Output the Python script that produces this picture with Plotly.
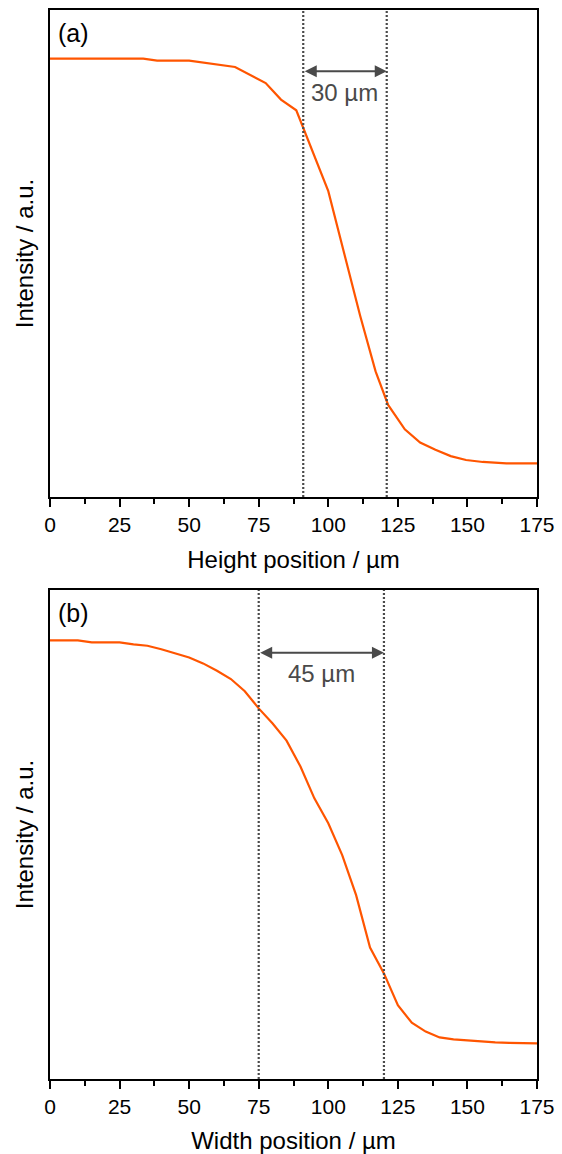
import plotly.graph_objects as go

# Profile (a): intensity along the height direction
height_pos = [0, 33.5, 38.5, 50, 66.5, 77.5, 83, 88.5, 100, 106.5, 111.5, 117,
              121.5, 127.5, 133, 138.5, 144, 149.5, 155.5, 164, 175]
height_int = [0.900, 0.900, 0.896, 0.896, 0.883, 0.850, 0.816, 0.794, 0.628, 0.480,
              0.371, 0.258, 0.189, 0.139, 0.112, 0.097, 0.084, 0.076, 0.072, 0.069, 0.069]

# Profile (b): intensity along the width direction
width_pos = [0, 5, 10, 15, 20, 25, 30, 35, 40, 45, 50, 55, 60, 65, 70, 75, 80, 85,
             90, 95, 100, 105, 110, 115, 120, 125, 130, 135, 140, 145, 150, 155,
             160, 165, 170, 175]
width_int = [0.897, 0.897, 0.897, 0.893, 0.893, 0.893, 0.889, 0.886, 0.879, 0.870,
             0.862, 0.850, 0.835, 0.818, 0.793, 0.758, 0.727, 0.692, 0.639, 0.574,
             0.523, 0.458, 0.376, 0.269, 0.216, 0.151, 0.115, 0.097, 0.085, 0.081,
             0.079, 0.076, 0.075, 0.074, 0.073, 0.073]

# Transition-zone markers and their labels
height_marks = [91, 121]
width_marks = [75, 120]
height_span_label = "30 µm"
width_span_label = "45 µm"
arrow_level = [0.874, 0.872]
label_level = [0.830, 0.830]

x_ticks = [0, 25, 50, 75, 100, 125, 150, 175]
x_titles = ["Height position / µm", "Width position / µm"]
panel_tags = ["(a)", "(b)"]

FONT = "Liberation Sans, Arial, sans-serif"
CURVE = "#ff5500"
GREY = "#4a4a4a"

fig = go.Figure()
fig.add_trace(go.Scatter(x=height_pos, y=height_int, mode="lines",
                         line=dict(color=CURVE, width=2.2), xaxis="x", yaxis="y",
                         showlegend=False))
fig.add_trace(go.Scatter(x=width_pos, y=width_int, mode="lines",
                         line=dict(color=CURVE, width=2.2), xaxis="x2", yaxis="y2",
                         showlegend=False))

panels = [("x", "y", height_marks, height_span_label, [0.5444, 1.0]),
          ("x2", "y2", width_marks, width_span_label, [0.0, 0.4574])]

layout_axes = {}
for i, (xa, ya, marks, span_label, dom) in enumerate(panels):
    xkey = "xaxis" if i == 0 else "xaxis2"
    ykey = "yaxis" if i == 0 else "yaxis2"
    layout_axes[xkey] = dict(
        range=[0, 175], tickvals=x_ticks, ticks="outside", ticklen=8, tickwidth=2,
        tickcolor="black", showline=True, linecolor="black", linewidth=2, mirror=True,
        showgrid=False, zeroline=False, anchor=ya, automargin=False,
        tickfont=dict(family=FONT, size=21, color="black"),
        ticklabelstandoff=0,
        minor=dict(ticks="outside", ticklen=5, tickwidth=2, tickcolor="black",
                   dtick=12.5, tick0=0, showgrid=False),
        title=dict(text=x_titles[i], font=dict(family=FONT, size=24, color="black"),
                   standoff=16),
    )
    layout_axes[ykey] = dict(
        range=[0, 1], domain=dom, showticklabels=False, ticks="", showline=True,
        linecolor="black", linewidth=2, mirror=True, showgrid=False, zeroline=False,
        anchor=xa, automargin=False,
        title=dict(text="Intensity / a.u.", font=dict(family=FONT, size=24, color="black"),
                   standoff=8),
    )

    # dotted vertical markers
    for m in marks:
        fig.add_shape(type="line", xref=xa, yref=f"{ya} domain", x0=m, x1=m, y0=0, y1=1,
                      line=dict(color=GREY, width=2.2, dash="2px,2px"))

    # double-headed span arrow
    fig.add_annotation(xref=xa, yref=ya, axref=xa, ayref=ya,
                       x=marks[1], y=arrow_level[i], ax=marks[0], ay=arrow_level[i],
                       text="", showarrow=True, arrowhead=2, startarrowhead=2,
                       arrowside="end+start", arrowsize=1.2, startarrowsize=1.2,
                       arrowwidth=2, arrowcolor=GREY, standoff=0, startstandoff=0)
    fig.add_annotation(xref=xa, yref=ya, x=(marks[0] + marks[1]) / 2, y=label_level[i],
                       text=span_label, showarrow=False,
                       font=dict(family=FONT, size=24, color=GREY),
                       xanchor="center", yanchor="middle")

    # panel tag
    fig.add_annotation(xref=f"{xa} domain", yref=f"{ya} domain", x=0.012, y=0.953,
                       text=panel_tags[i], showarrow=False,
                       font=dict(family=FONT, size=25, color="black"),
                       xanchor="left", yanchor="middle")

fig.update_layout(
    width=562, height=1154,
    margin=dict(l=50, r=25, t=10, b=75),
    paper_bgcolor="white", plot_bgcolor="white",
    **layout_axes,
)

fig.write_html("out.html")
